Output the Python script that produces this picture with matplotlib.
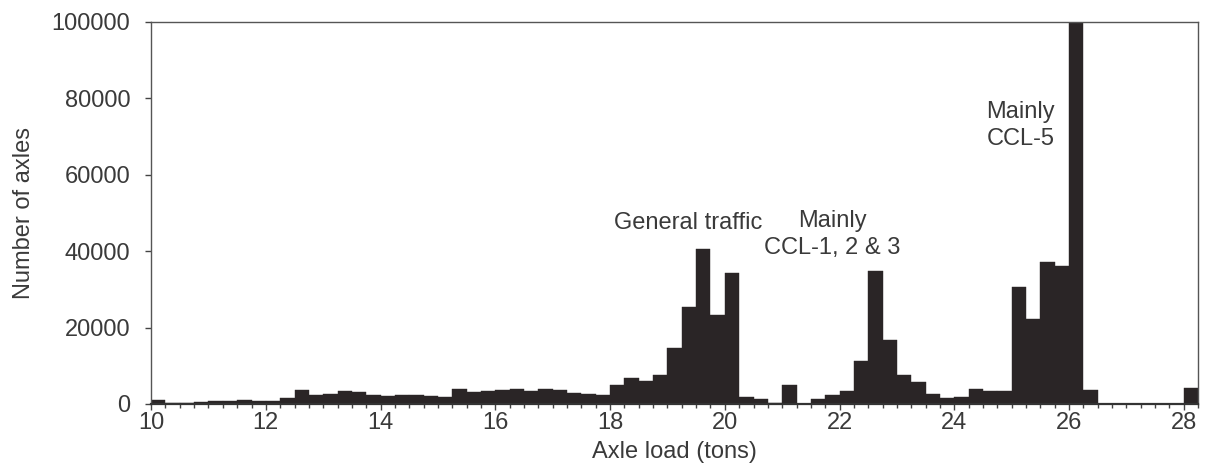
import numpy as np
import matplotlib
matplotlib.use("Agg")
import matplotlib.pyplot as plt
from matplotlib.ticker import MultipleLocator

plt.rcParams['font.family'] = ['Liberation Sans', 'DejaVu Sans']

# axle load bins (left edge, tons), 0.25 t wide
bin_width = 0.25
load_bins = np.arange(10.0, 28.0 + bin_width / 2, bin_width)

# number of axles per bin
axle_counts = [
    1000, 200, 300, 500, 700, 800, 1000, 700,         # 10.00 - 11.75
    800, 1500, 3700, 2400, 2500, 3500, 3000, 2200,    # 12.00 - 13.75
    2100, 2400, 2300, 2000, 1800, 3800, 3200, 3400,   # 14.00 - 15.75
    3600, 3900, 3400, 3900, 3600, 2800, 2500, 2300,   # 16.00 - 17.75
    5000, 6900, 5900, 7500, 14600, 25500, 40500, 23200,  # 18.00 - 19.75
    34300, 1900, 1200, 200, 5000, 100, 1400, 2200,    # 20.00 - 21.75
    3400, 11300, 34900, 16800, 7600, 5600, 2500, 1500,  # 22.00 - 23.75
    1800, 3900, 3400, 3400, 30500, 22200, 37100, 36200,  # 24.00 - 25.75
    100000, 3700, 0, 0, 0, 0, 0, 0,                   # 26.00 - 27.75
    4100,                                             # 28.00
]

notes = ["General traffic", "Mainly\nCCL-1, 2 & 3", "Mainly\nCCL-5"]
note_xy = [(19.36, 47300), (21.88, 44300), (25.16, 73000)]

text_col = "#3a3a3a"
bar_col = "#2a2526"

fig = plt.figure(figsize=(12.09, 4.68), dpi=100)
ax = fig.add_axes([0.125, 0.137, 0.866, 0.816])

ax.bar(load_bins, axle_counts, width=bin_width, align="edge",
       color=bar_col, edgecolor=bar_col, linewidth=0.3)

ax.set_xlim(10, 28.25)
ax.set_ylim(0, 100000)
ax.xaxis.set_major_locator(MultipleLocator(2))
ax.xaxis.set_minor_locator(MultipleLocator(0.25))
ax.yaxis.set_major_locator(MultipleLocator(20000))

for sp in ax.spines.values():
    sp.set_color("#555555")
    sp.set_linewidth(1.0)
ax.spines["bottom"].set_color("#333333")
ax.spines["bottom"].set_linewidth(1.6)

ax.tick_params(axis="both", which="major", direction="out", length=4,
               width=1, colors="#444444", labelsize=17, labelcolor=text_col, pad=2)
ax.tick_params(axis="x", which="minor", direction="out", length=3,
               width=1, colors="#444444")
ax.tick_params(axis="y", pad=11)

ax.set_xlabel("Axle load (tons)", fontsize=17, color=text_col, labelpad=5)
ax.set_ylabel("Number of axles", fontsize=17, color=text_col, labelpad=12)

for txt, (x, y) in zip(notes, note_xy):
    ax.text(x, y, txt, ha="center", va="center", fontsize=17,
            color=text_col, linespacing=1.3)

fig.savefig("out.png", dpi=100)
